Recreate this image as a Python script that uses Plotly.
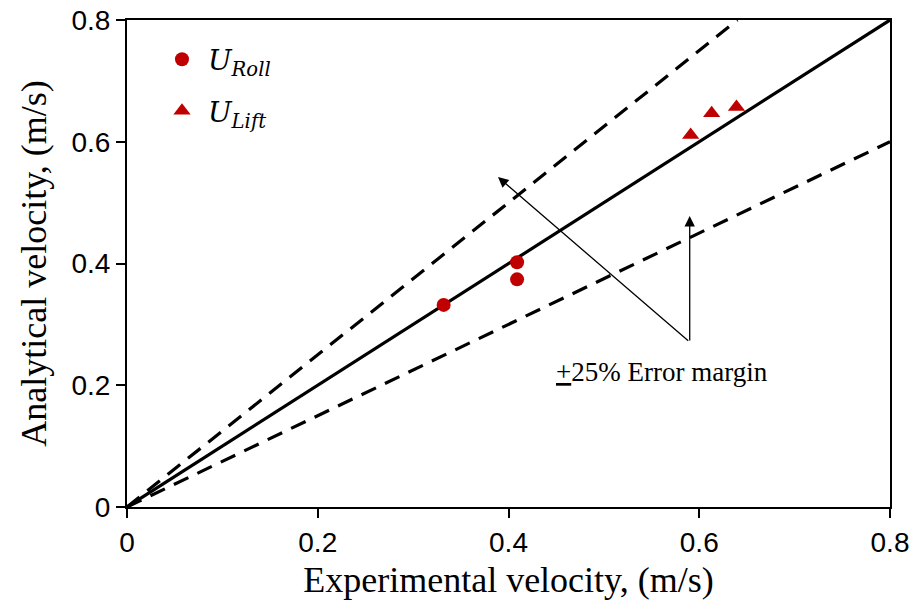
import plotly.graph_objects as go

# Data
roll_x = [0.332, 0.409, 0.409]
roll_y = [0.332, 0.402, 0.374]
lift_x = [0.591, 0.613, 0.639]
lift_y = [0.611, 0.647, 0.657]

line_x = [0, 0.8]
ideal_y = [0, 0.8]
upper_x = [0, 0.64]
upper_y = [0, 0.8]
lower_x = [0, 0.8]
lower_y = [0, 0.6]

ticks = [0, 0.2, 0.4, 0.6, 0.8]
tick_text = ["0", "0.2", "0.4", "0.6", "0.8"]

fig = go.Figure()
fig.add_trace(go.Scatter(x=line_x, y=ideal_y, mode="lines",
                         line=dict(color="black", width=3.2), showlegend=False))
fig.add_trace(go.Scatter(x=upper_x, y=upper_y, mode="lines",
                         line=dict(color="black", width=3.2, dash="16px,10px"), showlegend=False))
fig.add_trace(go.Scatter(x=lower_x, y=lower_y, mode="lines",
                         line=dict(color="black", width=3.2, dash="16px,10px"), showlegend=False))
fig.add_trace(go.Scatter(x=roll_x, y=roll_y, mode="markers",
                         name="<i>U</i><sub><i>Roll</i></sub>", legendgroup="a",
                         marker=dict(symbol="circle", size=14, color="#C00000")))
fig.add_trace(go.Scatter(x=lift_x, y=lift_y, mode="markers",
                         name="<i>U</i><sub><i>Lift</i></sub>", legendgroup="b",
                         marker=dict(symbol="triangle-up", size=15, color="#C00000")))

arrow_tail = (0.590, 0.271)
for tip in [(0.389, 0.542), (0.590, 0.478)]:
    fig.add_annotation(x=tip[0], y=tip[1], ax=arrow_tail[0], ay=arrow_tail[1],
                       xref="x", yref="y", axref="x", ayref="y", text="",
                       showarrow=True, arrowhead=2, arrowsize=1.6, arrowwidth=1.3,
                       arrowcolor="black")
fig.add_annotation(x=0.561, y=0.222, xref="x", yref="y", text="<u>+</u>25% Error margin",
                   showarrow=False, font=dict(family="Liberation Serif", size=27, color="black"))

axis_common = dict(range=[0, 0.8], tickvals=ticks, ticktext=tick_text,
                   showgrid=False, zeroline=False, showline=True, linecolor="black",
                   linewidth=2, mirror=True, ticks="outside", ticklen=9, tickwidth=1.5,
                   tickcolor="black", automargin=False,
                   tickfont=dict(family="Liberation Sans", size=28, color="black"))

fig.update_xaxes(**axis_common,
                 title=dict(text="Experimental velocity, (m/s)", standoff=10,
                            font=dict(family="Liberation Serif", size=36, color="black")))
fig.update_yaxes(**axis_common,
                 title=dict(text="Analytical velocity, (m/s)", standoff=14,
                            font=dict(family="Liberation Serif", size=36, color="black")))

fig.update_layout(width=914, height=615, plot_bgcolor="white", paper_bgcolor="white",
                  margin=dict(l=127, r=24, t=20, b=108, autoexpand=False),
                  legend=dict(x=0.038, y=0.97, xanchor="left", yanchor="top",
                              bgcolor="rgba(0,0,0,0)", traceorder="grouped",
                              tracegroupgap=12, itemwidth=42,
                              font=dict(family="DejaVu Serif", size=28, color="black")))

fig.write_html("out.html", config={"displayModeBar": False},
               post_script="document.body.style.margin='0';")
